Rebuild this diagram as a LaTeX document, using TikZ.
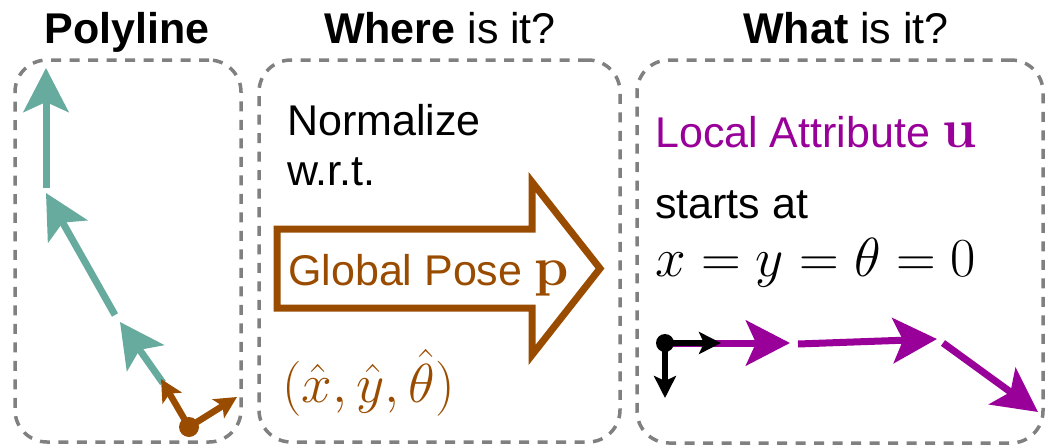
\RequirePackage{fix-cm}
\documentclass[tikz,border=0pt]{standalone}
\usepackage[no-math]{fontspec}
\setmainfont{Liberation Sans}
\usetikzlibrary{arrows.meta}
\definecolor{tealc}{RGB}{103,171,159}
\definecolor{brownc}{RGB}{153,76,0}
\definecolor{purpc}{RGB}{153,0,153}
\definecolor{grayc}{RGB}{128,128,128}
\newcommand{\mathsz}{\fontsize{55}{62}\selectfont}
\begin{document}
\begin{tikzpicture}[x=1pt,y=-1pt,
  panel/.style={draw=grayc, line width=3.5pt, dash pattern=on 10pt off 8.5pt, rounded corners=32pt, inner sep=0pt},
  txt/.style={anchor=base west, inner sep=0pt, font=\fontsize{43}{50}\selectfont},
  ttl/.style={anchor=base, inner sep=0pt, font=\fontsize{43}{50}\selectfont},
  seg/.style={line width=7pt, -{Stealth[length=44pt,width=45pt,inset=10pt]}},
  axis/.style={line width=6.5pt, -{Stealth[length=22pt,width=22pt,inset=5pt]}},
  dot/.style={circle, fill, inner sep=0pt, minimum size=#1}
]
\useasboundingbox (0,0) rectangle (1047,447);

% panels
\node[panel, minimum width=226pt, minimum height=382pt] (p1) at (128,251) {};
\node[panel, minimum width=361pt, minimum height=382pt] (p2) at (439.5,251) {};
\node[panel, minimum width=406pt, minimum height=383pt] (p3) at (840,251.5) {};

% titles
\node[ttl] (t1) at (127,43) {\bfseries Polyline};
\node[ttl] (t2) at (440,43) {\textbf{Where} is it?};
\node[ttl] (t3) at (846,43) {\textbf{What} is it?};

% panel 1: polyline
\coordinate (a3s) at (163,383);
\coordinate (a3e) at (120,322);
\coordinate (a2s) at (115,315);
\coordinate (a2e) at (46,193);
\coordinate (a1s) at (46,188);
\coordinate (a1e) at (46,68);
\draw[seg, tealc] (a3s) -- (a3e);
\draw[seg, tealc] (a2s) -- (a2e);
\draw[seg, tealc] (a1s) -- (a1e);
\node[dot=20pt, brownc] (o1) at (189,427) {};
\coordinate (bx) at (237,397);
\coordinate (by) at (161,379);
\draw[axis, brownc] (o1.center) -- (bx);
\draw[axis, brownc] (o1.center) -- (by);

% panel 2
\node[txt] (n1) at (287,135) {Normalize};
\node[txt] (n2) at (287,185) {w.r.t.};
\draw[brownc, line width=7pt, line join=miter]
  (277,229) -- (532,229) -- (532,182) -- (600,268.5) -- (532,355) -- (532,308) -- (277,308) -- cycle;
\node[txt, text=brownc] (gp) at (288,285) {Global Pose {\mathsz$\mathbf{p}$}};
\node[txt, text=brownc] (hat) at (282,402) {\mathsz$(\hat{x},\hat{y},\hat{\theta})$};

% panel 3
\node[txt, text=purpc] (la) at (655,147) {Local Attribute {\mathsz$\mathbf{u}$}};
\node[txt] (sa) at (655,218) {starts at};
\node[txt] (eq) at (655,276) {\mathsz$x=y=\theta=0$};

\coordinate (o3) at (665,343);
\coordinate (u1e) at (790,343);
\coordinate (u2s) at (798,344);
\coordinate (u2e) at (937,339);
\coordinate (u3s) at (943,343);
\coordinate (u3e) at (1038,412);
\draw[seg, purpc] (o3) -- (u1e);
\draw[seg, purpc] (u2s) -- (u2e);
\draw[seg, purpc] (u3s) -- (u3e);
\node[dot=18pt, black] (o3d) at (o3) {};
\coordinate (kx) at (721,343);
\coordinate (ky) at (665,398);
\draw[axis, black] (o3d.center) -- (kx);
\draw[axis, black] (o3d.center) -- (ky);
\end{tikzpicture}
\end{document}
